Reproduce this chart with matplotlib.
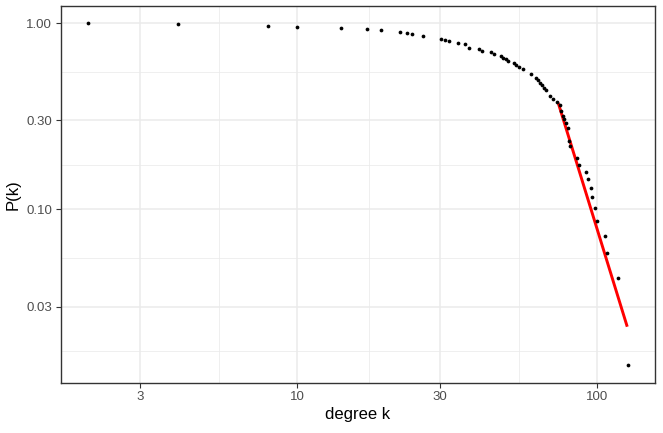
import numpy as np
import matplotlib
matplotlib.use("Agg")
import matplotlib.pyplot as plt
from matplotlib.ticker import FixedLocator, FixedFormatter, NullFormatter

plt.rcParams['font.family'] = ['Liberation Sans', 'DejaVu Sans']

# degree distribution (complementary cumulative)
degree_k = [2.0, 4.0, 8.0, 10.0, 14.0, 17.1, 19.1, 22.0, 23.2, 24.2,
            26.2, 30.1, 31.1, 32.0, 34.3, 36.2, 37.4, 40.3, 41.5, 44.3,
            45.5, 47.8, 48.6, 49.6, 50.6, 52.8, 53.7, 55.1, 56.5, 60.4,
            62.5, 63.6, 64.6, 65.7, 66.7, 67.6, 69.7, 71.5, 73.7, 75.3,
            76.0, 77.0, 77.8, 79.0, 80.2, 80.7, 81.3, 85.8, 87.3, 92.1,
            93.3, 95.3, 96.0, 98.4, 99.9, 106.5, 108.4, 117.7, 126.9]
p_k = [1.000, 0.986, 0.971, 0.957, 0.942, 0.928, 0.913, 0.899, 0.884, 0.870,
       0.855, 0.826, 0.812, 0.797, 0.783, 0.768, 0.739, 0.725, 0.710, 0.696,
       0.681, 0.667, 0.652, 0.638, 0.623, 0.609, 0.594, 0.580, 0.565, 0.536,
       0.507, 0.493, 0.478, 0.464, 0.449, 0.435, 0.406, 0.391, 0.377, 0.362,
       0.336, 0.319, 0.304, 0.290, 0.275, 0.232, 0.219, 0.188, 0.174, 0.159,
       0.145, 0.130, 0.116, 0.101, 0.087, 0.072, 0.058, 0.043, 0.0145]

# power-law fit on the tail (end points of the fitted line)
fit_k = [74.3, 126.2]
fit_p = [0.372, 0.0234]

x_breaks = [3, 10, 30, 100]
x_labels = ["3", "10", "30", "100"]
y_breaks = [0.03, 0.10, 0.30, 1.00]
y_labels = ["0.03", "0.10", "0.30", "1.00"]

fig = plt.figure(figsize=(6.63, 4.33), dpi=100)
ax = fig.add_axes([0.0913, 0.1166, 0.8966, 0.8695])

ax.set_xscale('log')
ax.set_yscale('log')

# ggplot-like 5% expansion on log scale
lx = np.log10([min(degree_k), max(degree_k)])
ly = np.log10([min(p_k), max(p_k)])
ex = 0.05 * (lx[1] - lx[0])
ey = 0.05 * (ly[1] - ly[0])
ax.set_xlim(10 ** (lx[0] - ex), 10 ** (lx[1] + ex))
ax.set_ylim(10 ** (ly[0] - ey), 10 ** (ly[1] + ey))

# minor breaks halfway (in log space) between the majors
x_minor = [np.sqrt(a * b) for a, b in zip(x_breaks[:-1], x_breaks[1:])]
y_ext = [0.01] + y_breaks
y_minor = [np.sqrt(a * b) for a, b in zip(y_ext[:-1], y_ext[1:])]

grid_col = '#EBEBEB'
for v in x_minor:
    ax.axvline(v, color=grid_col, lw=0.55, zorder=0)
for v in y_minor:
    ax.axhline(v, color=grid_col, lw=0.55, zorder=0)
for v in x_breaks:
    ax.axvline(v, color=grid_col, lw=1.1, zorder=0)
for v in y_breaks:
    ax.axhline(v, color=grid_col, lw=1.1, zorder=0)

ax.plot(degree_k, p_k, 'o', color='black', markersize=2.7, markeredgewidth=0, zorder=3)
ax.plot(fit_k, fit_p, color='red', lw=2.1, solid_capstyle='butt', zorder=2)

ax.xaxis.set_major_locator(FixedLocator(x_breaks))
ax.xaxis.set_major_formatter(FixedFormatter(x_labels))
ax.yaxis.set_major_locator(FixedLocator(y_breaks))
ax.yaxis.set_major_formatter(FixedFormatter(y_labels))
ax.xaxis.set_minor_locator(FixedLocator([]))
ax.yaxis.set_minor_locator(FixedLocator([]))
ax.xaxis.set_minor_formatter(NullFormatter())
ax.yaxis.set_minor_formatter(NullFormatter())

ax.tick_params(axis='both', which='major', length=3.5, width=0.8, color='#333333',
               labelcolor='#4D4D4D', labelsize=9.5, pad=2.5)

for s in ax.spines.values():
    s.set_color('#333333')
    s.set_linewidth(1.0)

ax.set_xlabel("degree k", fontsize=12, color='black', labelpad=3)
ax.set_ylabel("P(k)", fontsize=12, color='black', labelpad=4)

fig.savefig("out.png", dpi=100)
